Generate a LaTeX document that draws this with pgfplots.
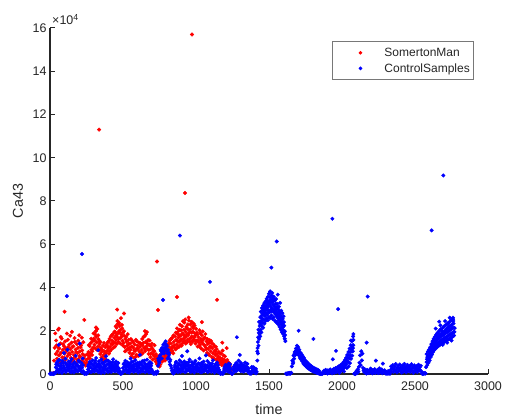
\documentclass[border=0pt]{standalone}
\usepackage{fontspec}
\setmainfont{Liberation Sans}
\usepackage{pgfplots}
\pgfplotsset{compat=1.18}
\definecolor{axc}{RGB}{38,38,38}
\definecolor{legc}{RGB}{120,120,120}

\begin{document}
\begin{tikzpicture}
\path[use as bounding box] (-50pt,-45pt) rectangle (458pt,374pt);
\begin{axis}[
  at={(0pt,0pt)}, anchor=south west,
  scale only axis, width=438pt, height=346pt,
  xmin=0, xmax=3000, ymin=0, ymax=16,
  axis x line*=bottom, axis y line*=left,
  axis line style={line width=1.3pt, color=axc},
  tick align=inside, major tick length=5pt,
  tick style={line width=1pt, color=axc},
  xtick={0,500,...,3000}, ytick={0,2,...,16},
  /pgf/number format/assume math mode=true,
  /pgf/number format/1000 sep={},
  ticklabel style={font=\fontsize{12.5}{14}\selectfont, color=axc},
  xticklabel style={yshift=-4pt},
  xlabel={time}, ylabel={Ca43},
  label style={font=\fontsize{14.3}{16}\selectfont, color=axc},
  xlabel style={at={(axis description cs:0.5,-0.101)}, anchor=center},
  ylabel style={at={(axis description cs:-0.073,0.5)}, anchor=center},
  legend style={at={(rel axis cs:0.644,0.962)}, anchor=north west,
    draw=legc, line width=0.8pt, fill=white, inner xsep=0pt, inner ysep=3.5pt,
    font=\fontsize{12}{14}\selectfont, text=axc,
    nodes={inner ysep=2.8pt, inner xsep=4pt}},
  legend cell align=left,
]
\addplot[only marks, mark=*, mark size=1.8pt, color=red,
  legend image code/.code={\path[draw=none,fill=none] (0pt,-3pt) rectangle (48pt,3pt); \fill[red] (28pt,0pt) circle (1.4pt);}]
coordinates {
(24,0.05) (28,0.62) (32,1.21) (36,1.88)
(40,0.93) (44,1.32) (48,0.71) (52,1.05) (56,2.05) (60,0.86) (64,1.18) (68,0.55) (72,1.41) (76,0.98) (80,1.64) (84,0.77) (88,1.12) (92,0.62) (96,1.29) (100,0.94)
(104,1.51) (108,0.68) (112,1.07) (116,1.87) (120,0.83) (124,1.24) (128,0.57) (132,1.36) (136,0.91) (140,1.15) (144,0.74) (148,1.45) (152,1.02) (156,0.63) (160,1.28) (164,0.88) (168,1.66) (172,0.79) (176,1.13) (180,0.52) (184,1.38) (188,0.97) (192,1.21) (196,0.69) (200,1.79) (204,1.04) (208,0.81) (212,1.33) (216,0.61) (220,1.09) (224,0.92) (228,1.47)
(232,0.74) (236,0.48) (240,0.86) (244,0.39) (248,0.65) (252,0.53) (256,0.92) (260,0.71)
(264,1.02) (268,0.83) (272,1.29) (276,0.95) (280,1.44) (284,1.12) (288,0.88) (292,1.52) (296,1.21) (300,1.63)
(304,1.35) (308,1.84) (312,1.18) (316,1.72) (320,1.46) (324,2.08) (328,1.27) (332,1.61) (336,1.09)
(340,1.38) (344,0.92) (348,1.21) (352,0.76) (356,1.12) (360,0.64) (364,1.31) (368,0.88) (372,1.05) (376,0.71) (380,1.24) (384,0.97) (388,1.36)
(392,1.08) (396,1.47) (400,1.19) (404,0.94) (408,1.62) (412,1.26) (416,1.74) (420,1.13) (424,1.55) (428,1.37) (432,1.86) (436,1.22) (440,1.68)
(444,1.45) (448,1.93) (452,1.58) (456,2.14) (460,1.71) (464,2.31) (468,1.49) (472,1.98) (476,2.22) (480,1.66) (484,2.05) (488,1.82) (492,2.27) (496,1.54) (500,1.91)
(504,1.43) (508,1.77) (512,1.25) (516,1.62) (520,1.08) (524,1.49) (528,1.31) (532,1.84) (536,1.17) (540,1.39)
(544,0.98) (548,1.41) (552,1.12) (556,0.81) (560,1.27) (564,1.53) (568,0.94) (572,1.21) (576,0.76) (580,1.36) (584,1.07) (588,1.58) (592,0.89) (596,1.18) (600,1.32) (604,0.84) (608,1.46) (612,1.03) (616,1.25) (620,0.92)
(624,1.38) (628,1.11) (632,1.62) (636,0.97) (640,1.44) (644,1.21) (648,1.75) (652,1.06) (656,1.49) (660,1.28) (664,1.94) (668,1.15) (672,1.57) (676,0.93) (680,1.34)
(684,1.12) (688,0.78) (692,1.29) (696,0.96) (700,1.18) (704,0.67) (708,1.07) (712,0.84) (716,1.33) (720,0.72)
(724,0.58) (728,0.83) (732,0.46) (736,0.71) (740,0.39) (744,0.62) (748,0.51) (752,0.87) (756,0.44) (760,0.68)
(764,0.76) (768,0.57) (772,0.94) (776,0.71) (780,1.12) (784,0.83) (788,0.62) (792,1.05) (796,0.91) (800,1.18)
(804,1.02) (808,1.36) (812,0.89) (816,1.24) (820,1.55) (824,1.08) (828,1.41) (832,1.19) (836,1.67) (840,1.28) (844,0.96) (848,1.49) (852,1.33) (856,1.74) (860,1.14)
(864,1.58) (868,1.37) (872,1.86) (876,1.26) (880,1.69) (884,1.48) (888,2.04) (892,1.33) (896,1.77) (900,1.59) (904,2.21) (908,1.42) (912,1.85) (916,1.64) (920,2.38) (924,1.53) (928,1.96) (932,1.72) (936,2.13) (940,1.47) (944,2.29) (948,1.81) (952,2.47) (956,1.63) (960,2.06) (964,1.38) (968,1.92) (972,1.74) (976,2.18) (980,1.56) (984,2.33) (988,1.69) (992,1.88) (996,1.41) (1000,2.09)
(1004,1.54) (1008,1.83) (1012,1.27) (1016,1.71) (1020,1.46) (1024,2.02) (1028,1.35) (1032,1.62) (1036,1.18) (1040,1.79) (1044,1.43) (1048,1.58) (1052,1.09) (1056,1.67) (1060,1.31) (1064,1.85) (1068,1.22) (1072,1.51) (1076,0.98) (1080,1.39)
(1084,1.16) (1088,1.44) (1092,0.87) (1096,1.28) (1100,1.05) (1104,1.52) (1108,0.79) (1112,1.19) (1116,0.96) (1120,1.37) (1124,0.71) (1128,1.08) (1132,0.88) (1136,1.26) (1140,0.66)
(1144,0.93) (1148,0.58) (1152,0.81) (1156,1.02) (1160,0.49) (1164,0.76) (1168,0.63) (1172,0.95) (1176,0.42) (1180,0.71) (1184,0.55) (1188,0.86) (1192,0.38) (1196,0.64) (1200,0.47)
(1204,0.33) (1208,0.56) (1212,0.24) (1216,0.45) (1220,0.31) (1224,0.52) (1228,0.19) (1232,0.37) (1236,0.26) (1240,0.15) (1244,0.02)
(42,1.55) (50,0.48) (58,1.22) (66,0.88) (74,1.71) (82,0.52) (90,1.38) (98,0.74) (106,1.19) (114,0.45) (122,1.58) (130,0.96) (138,1.77) (146,0.59) (154,1.26) (162,0.71) (170,1.49) (178,1.01) (186,0.66) (194,1.54) (202,0.83) (210,1.24) (218,1.68) (226,0.58)
(266,1.34) (274,0.72) (282,1.63) (290,1.05) (298,1.88) (306,1.55) (314,1.98) (322,1.12) (330,1.79) (338,1.52)
(346,1.48) (354,1.02) (362,0.82) (370,1.44) (378,0.92) (386,0.63) (394,1.28) (402,1.51) (410,1.05) (418,1.39) (426,1.81) (434,1.45) (442,1.96)
(446,1.27) (450,2.21) (454,1.78) (458,1.39) (462,2.45) (466,1.88) (470,1.62) (474,2.36) (478,1.94) (482,1.41) (486,2.58) (490,1.72) (494,2.11) (498,1.33)
(506,1.98) (514,1.05) (522,1.72) (530,1.14) (538,1.58) (546,1.22) (554,1.61) (562,0.92) (570,1.47) (578,1.08) (586,0.79) (594,1.51) (602,1.15) (610,0.86) (618,1.42)
(626,0.91) (634,1.33) (642,1.72) (650,1.19) (658,1.84) (666,1.41) (674,1.12) (682,1.55) (690,0.93) (698,1.41) (706,0.91) (714,1.05)
(726,0.92) (734,0.62) (742,0.78) (750,0.35) (758,0.82) (766,1.02) (774,0.66) (782,0.95) (790,0.78) (798,1.32)
(806,0.86) (814,1.42) (822,0.98) (830,1.63) (838,1.07) (846,1.78) (854,1.22) (862,1.91) (866,1.18) (870,2.11) (874,1.52) (878,1.97) (882,1.25) (886,1.79) (890,2.28) (894,1.56) (898,2.02) (902,1.31) (906,1.88) (910,2.44) (914,1.49) (918,2.05) (922,1.76) (926,2.52) (930,1.41) (934,2.18) (938,1.84) (942,1.58) (946,2.06) (950,2.61) (954,1.92) (958,1.51) (962,2.29) (966,1.67) (970,2.41) (974,1.49) (978,1.95) (982,2.12) (986,1.58) (990,2.24) (994,1.77) (998,1.52)
(1006,1.92) (1014,1.55) (1022,1.27) (1030,1.88) (1038,1.52) (1046,1.97) (1054,1.36) (1062,1.68) (1070,1.14) (1078,1.61)
(1086,0.92) (1094,1.56) (1102,1.24) (1110,1.41) (1118,0.73) (1126,1.29) (1134,1.05) (1142,1.15)
(1150,0.74) (1158,0.62) (1166,0.94) (1174,0.56) (1182,1.08) (1190,0.65) (1198,0.82) (1206,0.44) (1214,0.65) (1222,0.38) (1230,0.48)
(100,2.88) (235,2.5) (336,11.3) (460,2.98) (507,2.8) (733,5.2) (740,2.96) (870,3.56) (925,8.37) (973,15.7) (1144,3.43)
(60,2.1) (150,1.95) (315,2.15) (650,1.98) (1040,2.4) (1180,1.45) (1210,1.2)
};
\addlegendentry{SomertonMan}
\addplot[only marks, mark=*, mark size=1.8pt, color=blue,
  legend image code/.code={\path[draw=none,fill=none] (0pt,-3pt) rectangle (48pt,3pt); \fill[blue] (28pt,0pt) circle (1.4pt);}]
coordinates {
(0,0.01) (4,0.02) (8,0.0) (12,0.03) (16,0.01) (20,0.02) (24,0.0) (28,0.04) (32,0.02) (36,0.05)
(40,0.31) (44,0.12) (48,0.54) (52,0.23) (56,0.41) (60,0.08) (64,0.66) (68,0.35) (72,0.18) (76,0.49) (80,0.27) (84,0.61) (88,0.14) (92,0.38) (96,0.97) (100,0.22) (104,0.52) (108,0.09) (112,0.44) (116,0.31) (120,1.12) (124,0.19) (128,0.58) (132,0.36) (136,0.11) (140,0.47) (144,0.26) (148,0.69) (152,0.15) (156,0.42) (160,0.33) (164,0.07) (168,0.55) (172,0.28) (176,0.84) (180,0.17) (184,0.46) (188,0.39) (192,0.12) (196,0.62) (200,0.24) (204,1.41) (208,0.37) (212,0.16) (216,0.51) (220,0.29) (224,0.72) (228,0.13)
(232,0.03) (236,0.01) (240,0.05) (244,0.02) (248,0.04) (252,0.01) (256,0.06)
(260,0.21) (264,0.43) (268,0.14) (272,0.57) (276,0.32) (280,0.09) (284,0.48) (288,0.26) (292,0.63) (296,0.18) (300,0.39) (304,0.11) (308,0.52) (312,0.29) (316,0.74) (320,0.16) (324,0.44) (328,0.33) (332,0.08) (336,0.59) (340,0.23) (344,0.41) (348,0.13) (352,0.67) (356,0.31) (360,0.19) (364,0.49) (368,0.27) (372,0.06) (376,0.56) (380,0.34) (384,0.82) (388,0.17) (392,0.45) (396,0.25) (400,0.61) (404,0.12) (408,0.38) (412,0.28) (416,0.53) (420,0.09) (424,0.42) (428,0.22) (432,0.68) (436,0.35) (440,0.14) (444,0.47) (448,0.3) (452,0.58) (456,0.2) (460,0.37) (464,0.11) (468,0.51) (472,0.26) (476,0.15)
(480,0.03) (484,0.01) (488,0.04) (492,0.02) (496,0.05)
(500,0.28) (504,0.46) (508,0.13) (512,0.36) (516,0.61) (520,0.21) (524,0.43) (528,0.08) (532,0.54) (536,0.32) (540,0.17) (544,0.48) (548,0.25) (552,0.71) (556,0.14) (560,0.39) (564,0.29) (568,0.57) (572,0.1) (576,0.45) (580,0.23) (584,0.64) (588,0.18) (592,0.37) (596,0.27) (600,0.52) (604,0.07) (608,0.41) (612,0.3) (616,0.88) (620,0.16) (624,0.46) (628,0.24) (632,0.59) (636,0.12) (640,0.35) (644,0.28) (648,0.5) (652,0.09) (656,0.43) (660,0.21) (664,0.66) (668,0.33) (672,0.15) (676,0.47) (680,0.26) (684,0.55) (688,0.11) (692,0.38) (696,0.22) (700,0.14)
(704,0.04) (708,0.01) (712,0.06) (716,0.02) (720,0.03) (724,0.08) (728,0.01) (732,0.05) (736,0.12)
(740,0.38) (744,0.62) (748,0.51) (752,0.84) (756,0.73) (760,1.06) (764,0.92) (768,1.21) (772,1.04) (776,1.35) (780,1.16) (784,1.42) (788,1.23) (792,1.51) (796,1.09) (800,1.28) (804,0.96) (808,1.12) (812,0.78) (816,0.89) (820,0.57) (824,0.66) (828,0.38) (832,0.27) (836,0.15)
(840,0.06) (844,0.02) (848,0.04)
(852,0.19) (856,0.41) (860,0.12) (864,0.56) (868,0.28) (872,0.35) (876,0.08) (880,0.47) (884,0.21) (888,0.63) (892,0.16) (896,0.39) (900,0.27) (904,0.83) (908,0.13) (912,0.44) (916,0.31) (920,0.58) (924,0.09) (928,0.36) (932,0.24) (936,0.52) (940,1.05) (944,0.18) (948,0.42) (952,0.29) (956,0.67) (960,0.11) (964,0.38) (968,0.22) (972,0.55) (976,0.14) (980,0.33) (984,0.47) (988,0.07) (992,0.26) (996,0.61) (1000,0.19)
(1004,0.41) (1008,0.3) (1012,0.13) (1016,0.49) (1020,0.23) (1024,0.72) (1028,0.16) (1032,0.37) (1036,0.28) (1040,0.08) (1044,0.45) (1048,0.2) (1052,0.57) (1056,0.12) (1060,0.34) (1064,0.25) (1068,0.86) (1072,0.15) (1076,0.4) (1080,0.09) (1084,0.31) (1088,0.52) (1092,0.18) (1096,0.27) (1100,0.44) (1104,0.1) (1108,0.36) (1112,0.21) (1116,0.63) (1120,0.14) (1124,0.32) (1128,0.06) (1132,0.41) (1136,0.24) (1140,0.17) (1144,0.53) (1148,0.11) (1152,0.29) (1156,0.2) (1160,0.08)
(1164,0.03) (1168,0.01) (1172,0.05) (1176,0.02) (1180,0.04) (1184,0.0) (1188,0.06)
(1192,0.18) (1196,0.33) (1200,0.12) (1204,0.41) (1208,0.24) (1212,0.15) (1216,0.36) (1220,0.27) (1224,0.48) (1228,0.09) (1232,0.31) (1236,0.22) (1240,0.06) (1244,0.02) (1248,0.01) (1252,0.03) (1256,0.19) (1260,0.35) (1264,0.14) (1268,0.42) (1272,0.26) (1276,0.51) (1280,0.17) (1284,0.38) (1288,0.29) (1292,0.62) (1296,0.2) (1300,0.88) (1304,0.33) (1308,0.13) (1312,0.45) (1316,0.24) (1320,0.36) (1324,0.11) (1328,0.4) (1332,0.28) (1336,0.53) (1340,0.16) (1344,0.34) (1348,0.22) (1352,0.47) (1356,0.1) (1360,0.27) (1364,0.05) (1368,0.02) (1372,0.04) (1376,0.01) (1380,0.12) (1384,0.26) (1388,0.08) (1392,0.31) (1396,0.15) (1400,0.22) (1404,0.06) (1408,0.18) (1412,0.03) (1416,0.1)
(42,0.45) (50,0.18) (58,0.62) (66,0.21) (74,0.38) (82,0.05) (90,0.52) (98,0.29) (106,0.71) (114,0.16) (122,0.43) (130,0.24) (138,0.58) (146,0.08) (154,0.34) (162,0.51) (170,0.19) (178,0.42) (186,0.13) (194,0.35) (202,0.57) (210,0.25) (218,0.09) (226,0.41)
(262,0.36) (270,0.27) (278,0.51) (286,0.1) (294,0.42) (302,0.24) (310,0.61) (318,0.35) (326,0.15) (334,0.46) (342,0.3) (350,0.05) (358,0.52) (366,0.18) (374,0.39) (382,0.21) (390,0.63) (398,0.09) (406,0.48) (414,0.16) (422,0.33) (430,0.55) (438,0.25) (446,0.12) (454,0.42) (462,0.31) (470,0.08)
(502,0.12) (510,0.51) (518,0.33) (526,0.19) (534,0.41) (542,0.06) (550,0.38) (558,0.55) (566,0.22) (574,0.34) (582,0.13) (590,0.48) (598,0.2) (606,0.36) (614,0.53) (622,0.1) (630,0.41) (638,0.26) (646,0.62) (654,0.31) (662,0.14) (670,0.45) (678,0.07) (686,0.35) (694,0.49)
(742,0.71) (750,0.62) (758,1.12) (766,0.72) (774,1.02) (782,0.95) (790,1.18) (798,1.34) (806,0.71) (814,0.98) (822,0.44)
(854,0.32) (862,0.51) (870,0.14) (878,0.27) (886,0.45) (894,0.09) (902,0.54) (910,0.23) (918,0.35) (926,0.48) (934,0.12) (942,0.4) (950,0.55) (958,0.26) (966,0.1) (974,0.43) (982,0.21) (990,0.52) (998,0.35) (1006,0.15) (1014,0.3) (1022,0.46) (1030,0.08) (1038,0.51) (1046,0.34) (1054,0.18) (1062,0.42) (1070,0.27) (1078,0.6) (1086,0.13) (1094,0.38) (1102,0.22) (1110,0.49) (1118,0.31) (1126,0.16) (1134,0.45) (1142,0.28) (1150,0.41) (1158,0.19)
(1194,0.27) (1202,0.42) (1210,0.31) (1218,0.12) (1226,0.38) (1234,0.45) (1258,0.28) (1266,0.33) (1274,0.12) (1282,0.46) (1290,0.24) (1298,0.38) (1306,0.52) (1314,0.18) (1322,0.41) (1330,0.15) (1338,0.32) (1346,0.48) (1354,0.26) (1362,0.14) (1382,0.33) (1390,0.18) (1398,0.29) (1410,0.24)
(1420,0.62) (1420,1.05) (1424,0.95) (1424,1.48) (1428,1.31) (1428,2.05) (1432,1.62) (1432,2.41) (1436,1.85) (1436,2.22) (1440,1.74) (1440,2.63) (1444,2.05) (1444,2.88) (1448,1.93) (1448,2.46) (1452,2.21) (1452,3.05) (1456,2.38) (1456,2.79) (1460,2.14) (1460,3.17) (1464,2.52) (1464,2.96) (1468,2.33) (1468,3.28) (1472,2.68) (1472,3.02) (1476,2.45) (1476,3.36) (1480,2.81) (1480,3.11) (1484,2.57) (1484,3.48) (1488,2.74) (1488,3.19) (1492,2.49) (1492,3.57) (1496,2.92) (1496,3.26) (1500,2.63) (1500,3.71) (1504,2.86) (1504,3.35) (1508,2.58) (1508,3.82) (1512,2.97) (1512,3.44) (1516,2.71) (1516,3.63) (1520,2.89) (1520,3.31) (1524,2.55) (1524,3.52) (1528,2.93) (1528,3.21) (1532,2.62) (1532,3.58) (1536,2.84) (1536,3.13) (1540,2.47) (1540,3.39) (1544,2.76) (1544,3.05) (1548,2.41) (1548,3.47) (1552,2.69) (1552,2.98) (1556,2.36) (1556,3.24) (1560,2.58) (1560,3.67) (1564,2.29) (1564,2.86) (1568,2.47) (1568,3.12) (1572,2.18) (1572,2.74) (1576,2.39) (1576,3.29) (1580,2.06) (1580,2.61) (1584,2.27) (1584,2.93) (1588,1.94) (1588,2.52) (1592,2.15) (1592,2.81) (1596,1.86) (1596,2.38) (1600,2.02) (1600,2.67) (1604,1.75) (1604,2.24) (1608,1.63) (1608,1.98) (1612,1.52)
(1422,1.2) (1426,1.7) (1430,1.9) (1434,2.0) (1438,2.4) (1442,2.3) (1446,2.6) (1450,2.7) (1454,2.55) (1458,2.95) (1462,2.75) (1466,3.05) (1470,2.85) (1474,3.15) (1478,2.95) (1482,3.3) (1486,3.0) (1490,3.4) (1494,3.1) (1498,2.85) (1502,3.25) (1506,3.55) (1510,3.15) (1514,3.35) (1518,3.05) (1522,3.75) (1526,3.0) (1530,3.38) (1534,2.95) (1538,3.45) (1542,2.9) (1546,3.25) (1550,2.8) (1554,3.1) (1558,2.75) (1562,3.0) (1566,2.65) (1570,2.9) (1574,2.55) (1578,2.8) (1582,2.4) (1586,2.65) (1590,2.3) (1594,2.55) (1598,2.2) (1602,2.4) (1606,1.95) (1610,1.8)
(1616,0.02) (1620,0.0) (1624,0.03) (1628,0.01) (1632,0.04) (1636,0.02) (1640,0.05) (1644,0.01) (1648,0.03) (1652,0.06)
(1656,0.35) (1660,0.62) (1664,0.48) (1668,0.85) (1672,0.71) (1676,1.02) (1680,0.88) (1684,1.18) (1688,0.94) (1692,1.31) (1696,1.07) (1700,1.24) (1704,0.86) (1708,1.12) (1712,0.79) (1716,0.98) (1720,0.67) (1724,0.91) (1728,0.58) (1732,0.82) (1736,0.47) (1740,0.74) (1744,0.42) (1748,0.63) (1752,0.36) (1756,0.57) (1760,0.31) (1764,0.52) (1768,0.27) (1772,0.46) (1776,0.23) (1780,0.41) (1784,0.19) (1788,0.37) (1792,0.16) (1796,0.33) (1800,0.13) (1804,0.29) (1808,0.1) (1812,0.26) (1816,0.08) (1820,0.24) (1824,0.06) (1828,0.21) (1832,0.05) (1836,0.18) (1840,0.03) (1844,0.14)
(1666,0.55) (1674,0.92) (1682,1.05) (1690,1.12) (1698,0.93) (1706,1.02) (1714,0.71) (1722,0.82) (1730,0.69) (1738,0.61) (1746,0.53) (1754,0.45) (1762,0.41) (1770,0.35) (1778,0.31) (1786,0.28) (1794,0.24) (1802,0.21) (1810,0.18) (1818,0.15)
(1848,0.01) (1852,0.02) (1856,0.0) (1860,0.03) (1864,0.01) (1868,0.02)
(1872,0.08) (1876,0.15) (1880,0.04) (1884,0.11) (1888,0.19) (1892,0.06) (1896,0.13) (1900,0.02) (1904,0.17) (1908,0.09) (1912,0.05) (1916,0.14) (1920,0.21) (1924,0.07) (1928,0.12) (1932,0.03) (1936,0.18) (1940,0.1) (1944,0.24) (1948,0.06) (1952,0.15) (1956,0.27) (1960,0.09) (1964,0.2) (1968,0.31) (1972,0.12) (1976,0.25) (1980,0.36) (1984,0.18) (1988,0.3) (1992,0.42) (1996,0.24) (2000,0.38) (2004,0.49) (2008,0.31) (2012,0.56) (2016,0.42) (2020,0.64) (2024,0.51) (2028,0.75) (2032,0.62) (2036,0.88) (2040,0.74) (2044,1.02) (2048,0.86) (2052,1.17) (2056,1.01) (2060,1.33) (2064,1.15) (2068,1.52) (2072,1.32) (2076,1.74) (2078,1.58)
(1990,0.12) (2006,0.22) (2018,0.3) (2030,0.45) (2042,0.56) (2050,0.72) (2058,0.85) (2066,1.04) (2070,1.21) (2074,1.05) (2077,1.33)
(1982,0.05) (1998,0.18) (2014,0.12) (2022,0.4) (2034,0.28) (2046,0.35) (2054,0.5) (2062,0.7) (2070,0.85) (2075,1.2) (2062,1.55) (2078,1.85)
(2084,0.01) (2088,0.03) (2092,0.0)
(2096,0.08) (2100,0.15) (2104,0.04) (2108,0.21) (2112,0.11) (2116,0.33) (2120,0.52) (2124,0.86) (2128,0.41) (2132,1.05) (2136,0.63) (2140,0.94) (2144,0.28) (2148,0.17) (2152,0.09) (2156,0.22) (2160,0.05) (2164,0.14) (2168,0.02) (2172,0.19) (2176,0.07) (2180,0.12) (2184,0.04) (2188,0.16) (2192,0.09) (2196,0.25) (2200,0.06) (2204,0.13) (2208,0.03) (2212,0.18) (2216,0.1) (2220,0.07) (2224,0.22) (2228,0.05) (2232,0.62) (2236,0.14) (2240,0.08) (2244,0.19) (2248,0.04) (2252,0.11) (2256,0.26) (2260,0.06) (2264,0.15) (2268,0.09) (2272,0.21) (2276,0.03) (2280,0.48) (2284,0.12) (2288,0.07) (2292,0.17) (2296,0.05) (2300,0.02) (2304,0.1) (2308,0.01) (2312,0.04) (2316,0.13) (2320,0.02) (2324,0.06) (2328,0.01)
(2332,0.18) (2336,0.35) (2340,0.12) (2344,0.27) (2348,0.41) (2352,0.09) (2356,0.22) (2360,0.33) (2364,0.15) (2368,0.46) (2372,0.2) (2376,0.07) (2380,0.29) (2384,0.38) (2388,0.13) (2392,0.25) (2396,0.44) (2400,0.17) (2404,0.31) (2408,0.06) (2412,0.23) (2416,0.39) (2420,0.11) (2424,0.28) (2428,0.47) (2432,0.19) (2436,0.34) (2440,0.08) (2444,0.26) (2448,0.42) (2452,0.14) (2456,0.3) (2460,0.21) (2464,0.37) (2468,0.1) (2472,0.24) (2476,0.45) (2480,0.16) (2484,0.32) (2488,0.05) (2492,0.27) (2496,0.4) (2500,0.13) (2504,0.29) (2508,0.2) (2512,0.36) (2516,0.09) (2520,0.23) (2524,0.43) (2528,0.15) (2532,0.31) (2536,0.18) (2540,0.38) (2544,0.12)
(2548,0.02) (2552,0.0) (2556,0.04) (2560,0.01) (2564,0.03) (2568,0.05) (2572,0.02)
(2576,0.32) (2580,0.55) (2580,0.92) (2584,0.41) (2584,0.78) (2588,0.66) (2588,1.04) (2592,0.52) (2592,0.87) (2596,0.74) (2596,1.12) (2600,0.63) (2600,1.01) (2604,0.85) (2604,1.24) (2608,0.79) (2608,1.15) (2612,0.96) (2612,1.38) (2616,0.9) (2616,1.29) (2620,1.08) (2620,1.52) (2624,1.02) (2624,1.41) (2628,1.19) (2628,1.63) (2632,1.11) (2632,1.55) (2636,1.26) (2636,1.72) (2640,1.17) (2640,1.49) (2644,1.33) (2644,1.81) (2648,1.22) (2648,1.62) (2652,1.39) (2652,1.88) (2656,1.28) (2656,1.7) (2660,1.45) (2660,1.94) (2664,1.31) (2664,1.76) (2668,1.5) (2668,2.01) (2672,1.36) (2672,1.82) (2676,1.54) (2676,2.07) (2680,1.4) (2680,1.87) (2684,1.58) (2684,1.99) (2688,1.43) (2688,2.12) (2692,1.61) (2692,1.91) (2696,1.46) (2696,2.18) (2700,1.65) (2700,1.97) (2704,1.5) (2704,2.23) (2708,1.68) (2708,2.02) (2712,1.53) (2712,2.27) (2716,1.72) (2716,2.08) (2720,1.57) (2720,2.31) (2724,1.75) (2724,2.13) (2728,1.6) (2728,2.36) (2732,1.79) (2732,2.17) (2736,1.63) (2736,2.41) (2740,1.83) (2740,2.22) (2744,1.66) (2744,2.45) (2748,1.86) (2748,2.26) (2752,1.7) (2752,2.49) (2756,1.9) (2756,2.3) (2760,1.74) (2760,2.53) (2764,1.94) (2764,2.34) (2768,1.78) (2772,2.12)
(2582,0.68) (2590,0.8) (2598,0.9) (2606,1.0) (2614,1.15) (2622,1.25) (2630,1.38) (2638,1.45) (2646,1.55) (2654,1.6) (2662,1.65) (2670,1.7) (2678,1.75) (2686,1.78) (2694,1.8) (2702,1.85) (2710,1.9) (2718,1.92) (2726,1.95) (2734,2.0) (2742,2.05) (2750,2.08) (2758,2.12) (2766,2.15) (2770,1.95)
(2642,2.1) (2674,2.25) (2706,2.45) (2738,2.6) (2762,2.45) (2690,1.35) (2720,1.45) (2750,1.55)
(116,3.6) (219,5.55) (774,3.42) (890,6.4) (1096,4.26) (1280,1.7) (1516,4.92) (1553,6.13) (1703,2.0) (1804,1.62) (1934,7.18) (1973,3.0) (2176,3.58) (2169,1.45) (2614,6.64) (2694,9.18) (1959,1.07) (1937,0.68) (2666,2.42) (2760,2.6) (60,1.35) (330,1.1)
};
\addlegendentry{ControlSamples}
\end{axis}
\node[anchor=south west, inner sep=0pt, font=\fontsize{12.5}{14}\selectfont, text=axc] at (2pt,349pt) {×10\textsuperscript{4}};
\end{tikzpicture}
\end{document}
